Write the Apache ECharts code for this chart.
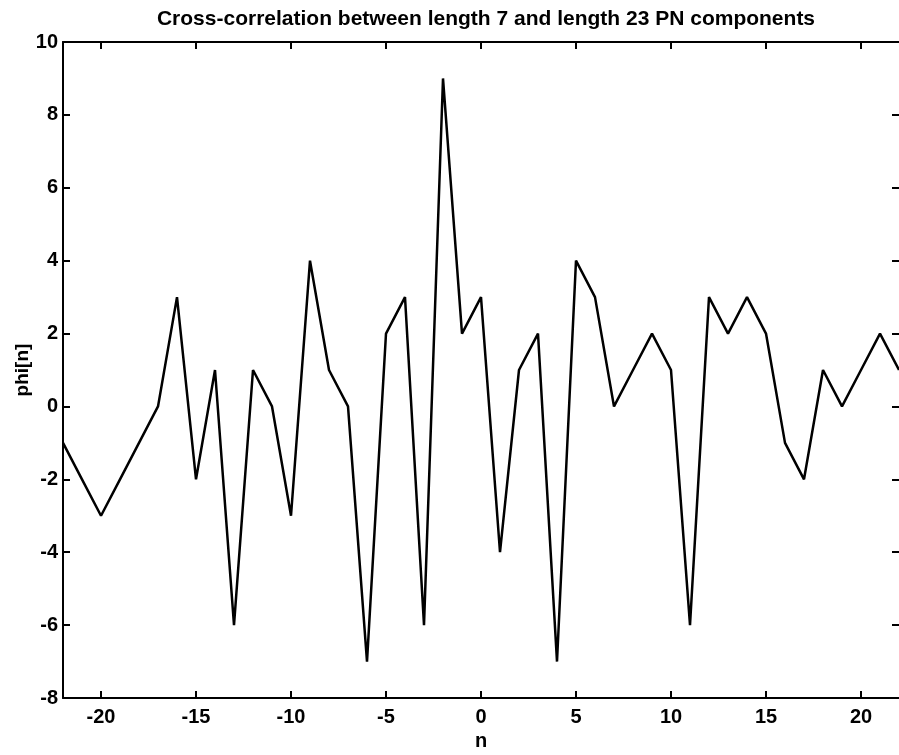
<!DOCTYPE html>
<html><head><meta charset="utf-8">
<script src="https://cdn.jsdelivr.net/npm/echarts@6/dist/echarts.min.js"></script>
<style>html,body{margin:0;padding:0;background:#fff}#c{width:899px;height:755px}</style>
</head><body><div id="c"></div>
<script>
const nValues = [-22,-21,-20,-19,-18,-17,-16,-15,-14,-13,-12,-11,-10,-9,-8,-7,-6,-5,-4,-3,-2,-1,0,1,2,3,4,5,6,7,8,9,10,11,12,13,14,15,16,17,18,19,20,21,22];
const phiValues = [-1,-2,-3,-2,-1,0,3,-2,1,-6,1,0,-3,4,1,0,-7,2,3,-6,9,2,3,-4,1,2,-7,4,3,0,1,2,1,-6,3,2,3,2,-1,-2,1,0,1,2,1];
const xTicks = [-20,-15,-10,-5,0,5,10,15,20];
const titleText = 'Cross-correlation between length 7 and length 23 PN components';
const xName = 'n';
const yName = 'phi[n]';

const font = 'Liberation Sans, Arial, Helvetica, sans-serif';
const chart = echarts.init(document.getElementById('c'));
const axisLine = {show:true, onZero:false, lineStyle:{color:'#000', width:2}};
const tickStyle = {show:true, inside:true, length:7, lineStyle:{color:'#000', width:2}};
const labelStyle = {fontFamily:font, fontWeight:'bold', fontSize:20, color:'#000'};
chart.setOption({
  animation:false,
  title:{text:titleText, left:481, top:4, textAlign:'center',
    textStyle:{fontFamily:font, fontWeight:'bold', fontSize:21, color:'#000'}},
  grid:{left:63, right:0, top:42, bottom:57, outerBoundsMode:'none'},
  xAxis:[{
    type:'value', min:-22, max:22, position:'bottom',
    name:xName, nameLocation:'middle', nameGap:33,
    nameTextStyle:labelStyle,
    axisLine, splitLine:{show:false},
    axisTick:Object.assign({customValues:xTicks}, tickStyle),
    axisLabel:Object.assign({customValues:xTicks, margin:9}, labelStyle)
  },{
    type:'value', min:-22, max:22, position:'top',
    axisLine, splitLine:{show:false},
    axisTick:Object.assign({customValues:xTicks}, tickStyle),
    axisLabel:{show:false}
  }],
  yAxis:[{
    type:'value', min:-8, max:10, interval:2, position:'left',
    name:yName, nameLocation:'middle', nameGap:31, nameMoveOverlap:false,
    nameTextStyle:Object.assign({}, labelStyle, {fontSize:19}),
    axisLine, splitLine:{show:false}, axisTick:tickStyle,
    axisLabel:Object.assign({margin:5}, labelStyle)
  },{
    type:'value', min:-8, max:10, interval:2, position:'right',
    axisLine:{show:true, onZero:false, lineStyle:{color:'#aaa', width:1, type:'dashed'}},
    splitLine:{show:false}, axisTick:tickStyle, axisLabel:{show:false}
  }],
  series:[{
    type:'line', data:nValues.map((n,i)=>[n, phiValues[i]]),
    showSymbol:false, lineStyle:{color:'#000', width:2.5}, clip:true
  }]
});
</script></body></html>
